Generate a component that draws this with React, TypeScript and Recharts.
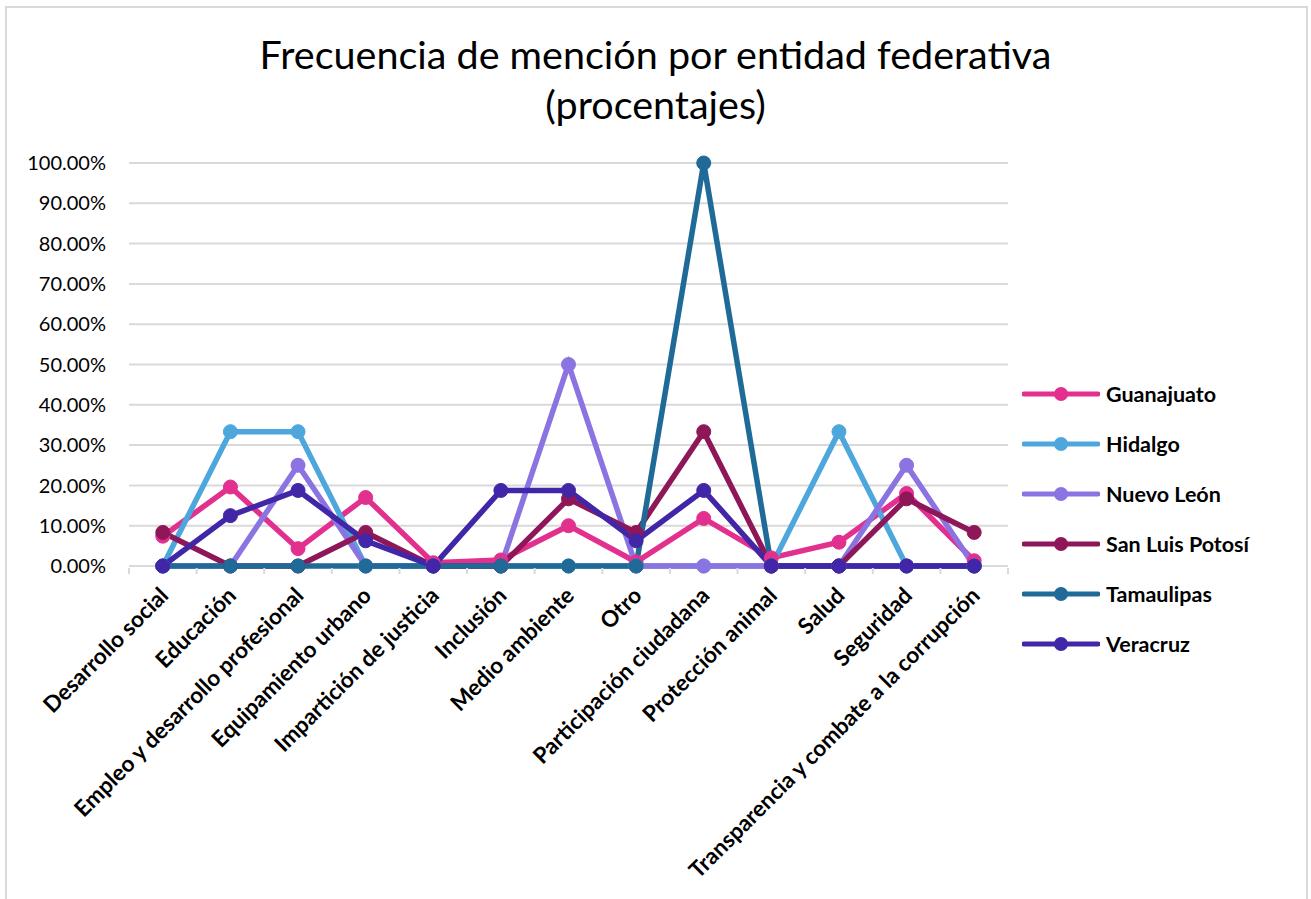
import React from 'react';
import { LineChart, Line, XAxis, YAxis, CartesianGrid } from 'recharts';

const categories = [
    'Desarrollo social',
    'Educación',
    'Empleo y desarrollo profesional',
    'Equipamiento urbano',
    'Impartición de justicia',
    'Inclusión',
    'Medio ambiente',
    'Otro',
    'Participación ciudadana',
    'Protección animal',
    'Salud',
    'Seguridad',
    'Transparencia y combate a la corrupción',
];

// porcentajes
const guanajuato = [7.4, 19.6, 4.3, 17.0, 0.8, 1.5, 10.0, 1.0, 11.8, 2.0, 5.9, 18.0, 1.3];
const hidalgo = [0, 33.33, 33.33, 0, 0, 0, 0, 0, 0, 0, 33.33, 0, 0];
const nuevoLeon = [0, 0, 25, 0, 0, 0, 50, 0, 0, 0, 0, 25, 0];
const sanLuisPotosi = [8.33, 0, 0, 8.33, 0, 0, 16.67, 8.33, 33.33, 0, 0, 16.67, 8.33];
const tamaulipas = [0, 0, 0, 0, 0, 0, 0, 0, 100, 0, 0, 0, 0];
const veracruz = [0, 12.5, 18.75, 6.25, 0, 18.75, 18.75, 6.25, 18.75, 0, 0, 0, 0];

const yTicks = [0, 10, 20, 30, 40, 50, 60, 70, 80, 90, 100];

const series = [
    { key: 'Guanajuato', values: guanajuato, color: '#E2308F' },
    { key: 'Hidalgo', values: hidalgo, color: '#4EA7DC' },
    { key: 'Nuevo León', values: nuevoLeon, color: '#8B74E1' },
    { key: 'San Luis Potosí', values: sanLuisPotosi, color: '#8E1759' },
    { key: 'Tamaulipas', values: tamaulipas, color: '#1F6A96' },
    { key: 'Veracruz', values: veracruz, color: '#4226A8' },
];

const data = categories.map((name, i) => {
    const row: any = { name };
    series.forEach(s => {
        row[s.key] = s.values[i];
    });
    return row;
});

const FONT = 'Lato, "Noto Sans", sans-serif';
const BAND = 879 / 13;

const XTick = (props: any) => {
    const { x, y, payload, index } = props;
    return (
        <g>
            <line x1={x + BAND / 2} x2={x + BAND / 2} y1={y} y2={y + 6} stroke="#d9d9d9" strokeWidth={2} />
            {index === 0 && (
                <line x1={x - BAND / 2} x2={x - BAND / 2} y1={y} y2={y + 6} stroke="#d9d9d9" strokeWidth={2} />
            )}
            <text
                x={x + 7}
                y={y + 29}
                transform={`rotate(-45, ${x + 7}, ${y + 29})`}
                textAnchor="end"
                fontFamily={FONT}
                fontWeight="bold"
                fontSize={22.5}
                fill="#000"
            >
                {payload.value}
            </text>
        </g>
    );
};

const LegendBox = () => (
    <div style={{ position: 'absolute', left: 1022, top: 369, fontFamily: FONT }}>
        {series.map(s => (
            <div key={s.key} style={{ display: 'flex', alignItems: 'center', height: 50 }}>
                <svg width={78} height={16}>
                    <line x1={2} x2={76} y1={8} y2={8} stroke={s.color} strokeWidth={5} strokeLinecap="round" />
                    <circle cx={39} cy={8} r={7} fill={s.color} />
                </svg>
                <span style={{ fontWeight: 'bold', fontSize: 21.5, marginLeft: 6, color: '#000' }}>{s.key}</span>
            </div>
        ))}
    </div>
);

const App: React.FC = () => {
    return (
        <div style={{ position: 'absolute', left: 0, top: 0, width: 1311, height: 899, background: '#fff', overflow: 'hidden' }}>
            <div
                style={{
                    position: 'absolute',
                    left: 5,
                    top: 6,
                    width: 1299,
                    height: 900,
                    border: '2px solid #d9d9d9',
                }}
            />
            <div
                style={{
                    position: 'absolute',
                    left: 0,
                    top: 29,
                    width: 1311,
                    textAlign: 'center',
                    fontFamily: FONT,
                    fontSize: 39.5,
                    lineHeight: '50px',
                    color: '#000',
                }}
            >
                Frecuencia de mención por entidad federativa
                <br />
                (procentajes)
            </div>
            <div style={{ position: 'absolute', left: 0, top: 0 }}>
                <LineChart width={1311} height={899} data={data} margin={{ top: 163, right: 303, bottom: 0, left: 0 }}>
                    <CartesianGrid vertical={false} stroke="#d9d9d9" strokeWidth={2} />
                    <XAxis
                        dataKey="name"
                        interval={0}
                        height={333}
                        padding={{ left: BAND / 2, right: BAND / 2 }}
                        tickSize={0}
                        tickLine={false}
                        axisLine={false}
                        tick={<XTick />}
                    />
                    <YAxis
                        domain={[0, 100]}
                        ticks={yTicks}
                        width={129}
                        axisLine={false}
                        tickLine={false}
                        tickSize={0}
                        tickMargin={23}
                        tickFormatter={(v: number) => `${v.toFixed(2)}%`}
                        tick={{ fill: '#000', fontSize: 20, fontFamily: FONT }}
                    />
                    {series.map(s => (
                        <Line
                            key={s.key}
                            dataKey={s.key}
                            name={s.key}
                            type="linear"
                            stroke={s.color}
                            strokeWidth={5.5}
                            dot={{ r: 7, fill: s.color, stroke: s.color, strokeWidth: 1 }}
                            activeDot={false}
                            isAnimationActive={false}
                        />
                    ))}
                </LineChart>
            </div>
            <LegendBox />
        </div>
    );
};

export default App;
